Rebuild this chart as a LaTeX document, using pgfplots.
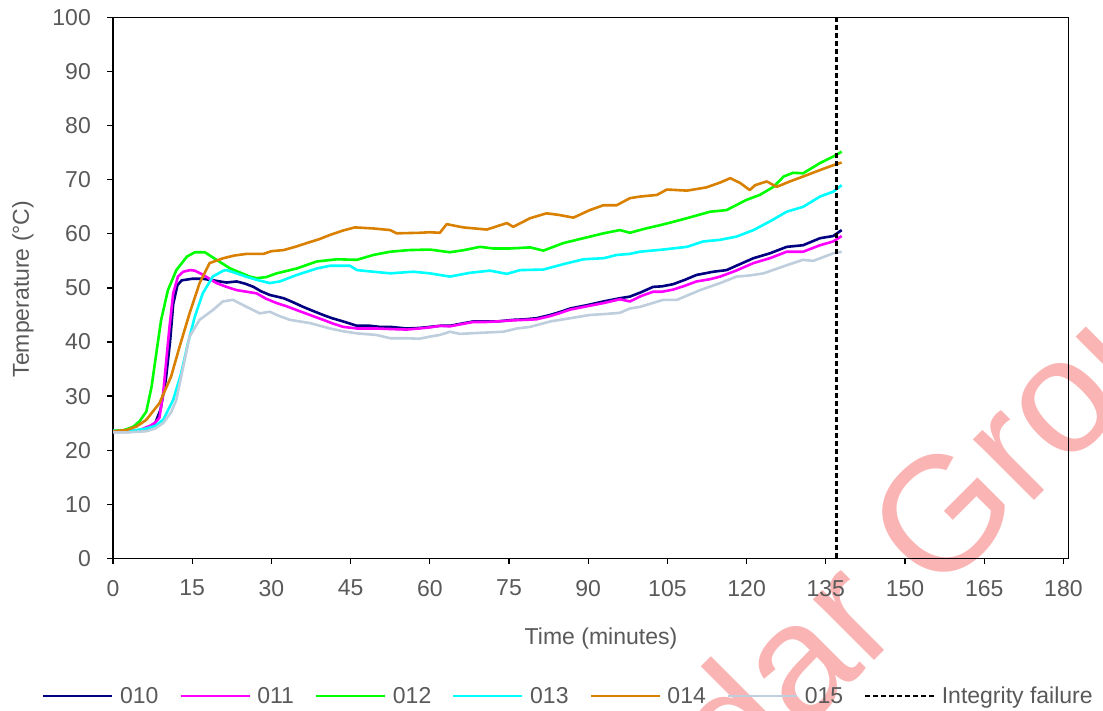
\documentclass[border=0pt]{standalone}
\usepackage{fontspec}
\setmainfont{Liberation Sans}
\usepackage{pgfplots}
\pgfplotsset{compat=1.18}

\definecolor{tickgray}{RGB}{89,89,89}
\definecolor{c010}{RGB}{0,0,128}
\definecolor{c011}{RGB}{255,0,255}
\definecolor{c012}{RGB}{0,255,0}
\definecolor{c013}{RGB}{0,255,255}
\definecolor{c014}{RGB}{217,128,0}
\definecolor{c015}{RGB}{190,206,220}
\definecolor{wmpink}{RGB}{250,180,180}

\newcommand{\chartfont}{\fontsize{23}{27}\selectfont}

\begin{document}
\begin{tikzpicture}[x=1pt,y=1pt]
\useasboundingbox (0,0) rectangle (1103,711);

% watermark behind the chart
\node[anchor=base west, rotate=45, inner sep=0pt, text=wmpink,
      font=\fontsize{163}{163}\selectfont] at (591,-233) {Cedar Group};

\begin{axis}[
  at={(113pt,152.7pt)}, anchor=south west,
  scale only axis, width=955.7pt, height=540.7pt,
  xmin=0, xmax=181, ymin=0, ymax=100,
  xtick={0,15,...,180}, ytick={0,10,...,100},
  xtick pos=bottom, ytick pos=left,
  tick align=outside, major tick length=6pt,
  tick style={black, line width=1.2pt},
  axis line style={black, line width=1.4pt},
  /pgf/number format/assume math mode=true,
  tick label style={font=\chartfont, text=tickgray, inner sep=0pt},
  xticklabel style={anchor=north, yshift=-15.5pt},
  yticklabel style={anchor=east, xshift=-16pt},
  xlabel={Time (minutes)},
  ylabel={Temperature (°C)},
  every axis x label/.style={at={(axis description cs:0.5106,-0.1493)}, anchor=center,
    font=\chartfont, text=tickgray, inner sep=0pt},
  every axis y label/.style={at={(axis description cs:-0.0942,0.498)}, rotate=90, anchor=center,
    font=\chartfont, text=tickgray, inner sep=0pt},
  legend columns=7,
  legend image code/.code={\draw[#1] (0pt,0pt) -- (69pt,0pt);},
  legend style={
    at={(axis description cs:-0.0743,-0.2545)}, anchor=west,
    draw=none, fill=none, inner sep=0pt, outer sep=0pt,
    font=\chartfont, text=tickgray,
    nodes={inner sep=0pt},
    /tikz/every odd column/.append style={column sep=6.5pt},
    /tikz/every even column/.append style={column sep=20.8pt},
  },
  every axis plot/.append style={line width=2.6pt, line join=round},
]

\addplot[c010] coordinates {
(0,23.4)(3,23.4)(5,23.6)(7,24.2)(8,25)(9,27.5)(10,33)(10.8,40)(11.4,47)(12.2,50.5)
(13,51.4)(15,51.7)(17,51.7)(19,51.4)(21.5,51)(23.4,51.2)(25,50.8)(26.6,50.2)(28,49.4)
(29.7,48.7)(32.3,48.1)(34,47.4)(36,46.5)(38,45.7)(39.8,45)(41.5,44.4)(43.6,43.8)
(46.2,43)(48.7,43)(50.5,42.8)(52.5,42.8)(55.6,42.5)(58,42.6)(60,42.8)(62,43)(63.8,43)
(66,43.4)(68.2,43.8)(70.5,43.8)(72.7,43.8)(75.8,44.1)(78,44.2)(80.2,44.4)(82.8,45)
(84.5,45.5)(86.6,46.2)(89.7,46.8)(92.9,47.5)(96,48.1)(97.9,48.4)(100,49.2)(102.3,50.2)
(104,50.3)(106.1,50.7)(108.3,51.5)(110.5,52.4)(113.7,53)(116.2,53.3)(118.5,54.3)
(121.3,55.5)(124.4,56.4)(127.6,57.6)(130.7,57.9)(133.9,59.2)(136.4,59.6)(138,60.7)
};
\addlegendentry{010}

\addplot[c011] coordinates {
(0,23.4)(3,23.5)(5,23.7)(7,24.5)(8,25.1)(8.8,26)(9.5,30.5)(10.1,36.7)(10.7,42.8)
(11.4,49)(12.3,52.1)(13.3,53)(14.6,53.3)(15.5,53.2)(17.1,52.4)(19.6,50.9)(21.5,50.2)
(23.4,49.6)(25.3,49.3)(27.2,49)(29,48)(31,47.2)(32.9,46.6)(34.8,45.9)(37.3,45)
(39.8,44.1)(41.7,43.4)(43.6,42.8)(46.2,42.5)(49.9,42.5)(52.5,42.4)(55.6,42.3)(58,42.5)
(60,42.7)(62,43)(63.8,42.9)(66,43.3)(68.2,43.7)(70.5,43.7)(72.7,43.8)(75.8,44)(78,44.1)
(80.2,44.2)(82.8,44.8)(84.5,45.3)(86.6,46)(89.7,46.6)(92.9,47.2)(96,47.9)(97.9,47.5)
(100,48.5)(102.3,49.3)(104,49.3)(106.1,49.7)(108.3,50.4)(110.5,51.2)(113,51.6)(115,52.1)
(118,53.2)(121.3,54.6)(124.4,55.5)(127.6,56.7)(130.7,56.7)(133.9,57.9)(136.4,58.6)(138,59.6)
};
\addlegendentry{011}

\addplot[c012] coordinates {
(0,23.6)(2,23.7)(3.8,24.3)(5,25.3)(6.3,27.1)(7.3,31.7)(8.2,37.9)(9.1,44)(10.4,49.6)
(12,53.3)(14,55.8)(15.5,56.6)(17.4,56.6)(19.6,55.2)(22.2,53.6)(25.9,52.1)(27.2,51.8)
(29,52)(31,52.7)(34.8,53.6)(38.6,54.9)(42.4,55.3)(46.2,55.2)(49.3,56.1)(52.5,56.7)
(56,57)(60,57.1)(63.8,56.6)(66.5,57)(69.5,57.6)(72,57.3)(75.2,57.3)(79,57.5)(81.5,56.9)
(85.3,58.3)(89.1,59.2)(92.9,60.1)(96,60.7)(97.9,60.2)(100.5,60.9)(103.6,61.6)(106,62.2)
(108.7,62.9)(113.1,64.1)(116.2,64.4)(120,66.3)(122.5,67.2)(125.1,68.7)(127,70.6)
(128.8,71.3)(130.7,71.2)(133.9,73.1)(136.4,74.3)(138,75.2)
};
\addlegendentry{012}

\addplot[c013] coordinates {
(0,23.6)(3,23.5)(6.3,24)(8,24.5)(9.5,25.6)(11.4,29.3)(12.9,34.2)(14.2,39.8)(15.5,44.7)
(17,49)(18.9,52.1)(20.9,53.2)(21.5,53.3)(23.4,52.7)(25.5,52)(27.2,51.5)(29.7,50.9)
(31.6,51.2)(34.8,52.4)(38.6,53.6)(41.1,54.1)(44.9,54.1)(46.2,53.3)(49.3,53)(52.5,52.7)
(56.9,53)(60,52.7)(63.8,52.1)(67.6,52.8)(71.4,53.2)(74.6,52.6)(77.1,53.3)(81.5,53.4)
(85.3,54.4)(89.1,55.3)(92.9,55.5)(95.4,56.1)(97.9,56.3)(99.8,56.7)(104.2,57.1)
(108.7,57.6)(111.8,58.6)(115,58.9)(118.1,59.5)(121.3,60.7)(124.4,62.3)(127.6,64.1)
(130.7,65)(133.9,66.9)(136.4,67.8)(138,69)
};
\addlegendentry{013}

\addplot[c014] coordinates {
(0,23.5)(2.5,23.7)(4.5,24.4)(6.3,25.6)(8.8,28.7)(11,33.6)(12.6,39.1)(14.5,45.3)
(16.4,50.9)(18.3,54.6)(20.9,55.5)(23,56)(25.3,56.3)(28.5,56.3)(30,56.8)(32.3,57)
(34.5,57.6)(36.7,58.3)(39,59)(41.1,59.8)(43.5,60.6)(45.8,61.2)(49.3,61)(52.5,60.7)
(53.7,60.1)(58.1,60.2)(60,60.3)(61.9,60.2)(63.2,61.8)(66.3,61.2)(70.8,60.8)(74.6,62)
(75.8,61.3)(79,62.9)(82.1,63.8)(84.5,63.5)(87.2,63)(90.3,64.4)(92.9,65.3)(95.4,65.3)
(97.9,66.6)(99.8,66.9)(103,67.2)(104.9,68.2)(108.7,68)(112.4,68.6)(115,69.5)(116.9,70.3)
(118.8,69.4)(120.6,68.1)(121.6,69)(123.8,69.7)(125.7,68.7)(128.2,69.7)(130.7,70.6)
(133.9,71.8)(136.4,72.7)(138,73.2)
};
\addlegendentry{014}

\addplot[c015] coordinates {
(0,23.3)(3,23.3)(6.3,23.5)(8,24)(9.5,25)(11,27)(12,29.3)(13.3,35.4)(14.5,41)(16.4,44.1)
(18.9,45.9)(20.8,47.5)(22.7,47.8)(25.3,46.5)(27.8,45.3)(29.7,45.6)(31.5,44.8)(33.5,44.1)
(37.3,43.5)(41.1,42.5)(43.5,42)(46.2,41.6)(49.9,41.3)(52.5,40.7)(55.6,40.7)(58,40.6)
(60,41)(61.9,41.3)(63.8,41.9)(65.7,41.5)(69.5,41.7)(73.9,41.9)(76.5,42.5)(79,42.8)
(82.8,43.8)(86.6,44.4)(90.3,45)(93.5,45.2)(96,45.4)(97.9,46.2)(99.8,46.5)(104.2,47.8)
(106.8,47.8)(111.2,49.6)(115,50.9)(118.1,52.1)(120.5,52.3)(123.2,52.7)(127.6,54.2)
(130.7,55.2)(132.6,55)(136.4,56.4)(138,56.7)
};
\addlegendentry{015}

\addplot[black, line width=2.4pt, dash pattern=on 5pt off 3pt] coordinates {(137,0)(137,100)};
\addlegendentry{Integrity failure}

\end{axis}
\end{tikzpicture}
\end{document}
